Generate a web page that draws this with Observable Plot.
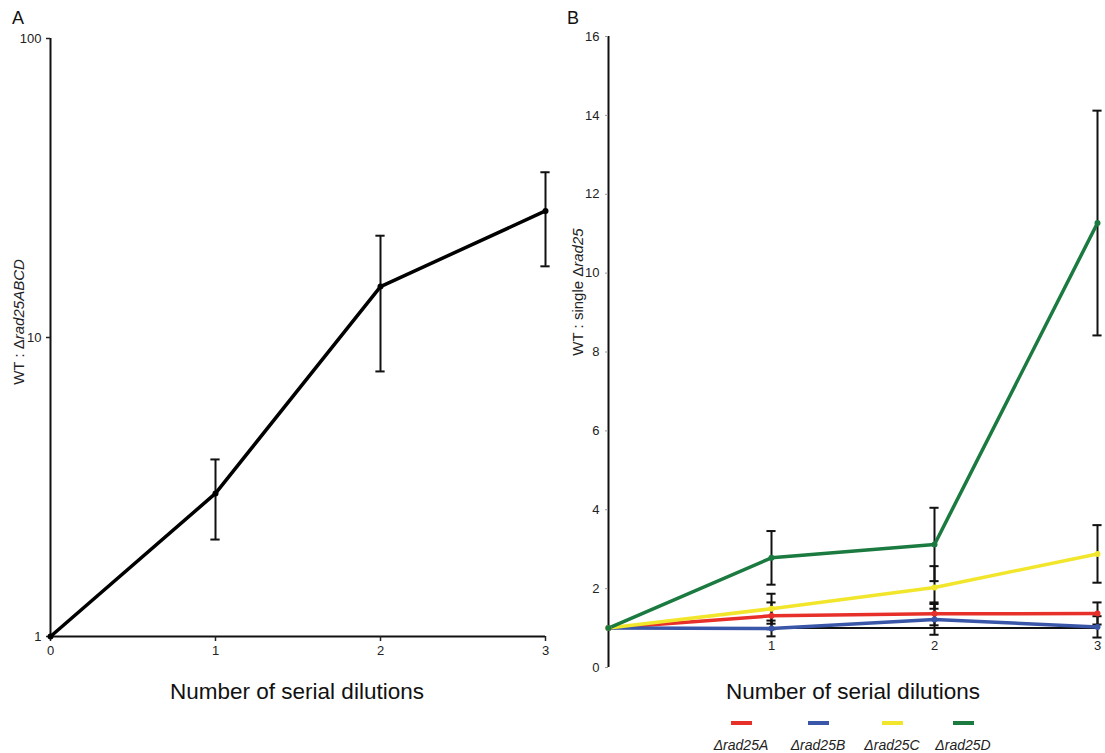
<!DOCTYPE html>
<html>
<head>
<meta charset="utf-8">
<script src="https://cdn.jsdelivr.net/npm/d3@7"></script>
<script src="https://cdn.jsdelivr.net/npm/@observablehq/plot@0.6"></script>
<style>
  html, body { margin: 0; padding: 0; background: #fff; }
  #wrap { position: relative; width: 1105px; height: 753px; font-family: "Liberation Sans", Arial, sans-serif; color: #111; overflow: hidden; }
  .panel { position: absolute; top: 0; }
  .ylab { position: absolute; white-space: nowrap; font-size: 15px; color: #222; transform: translate(-50%, -50%) rotate(-90deg); }
  .xtitle { position: absolute; white-space: nowrap; font-size: 22.5px; transform: translate(-50%, -50%); }
  .letter { position: absolute; font-size: 18px; transform: translate(-50%, -50%); }
  .sw { position: absolute; height: 4px; width: 21px; }
  .leg { position: absolute; font-size: 14px; font-style: italic; transform: translate(-50%, -50%); white-space: nowrap; color: #222; }
</style>
</head>
<body>
<div id="wrap"></div>
<script>
// ---- data ----
const dilutions = [0, 1, 2, 3];

// Panel A: WT : Δrad25ABCD (log scale)
const ratioABCD = [1, 3.01, 14.8, 26.5];
const errABCD   = [0, 0.9, 7.1, 9.2];
const yTicksA = [1, 10, 100];
const xTicksA = [0, 1, 2, 3];

// Panel B: WT : single Δrad25
const seriesNames  = ["Δrad25A", "Δrad25B", "Δrad25C", "Δrad25D"];
const seriesColors = ["#e8302b", "#3a56a8", "#f2e62c", "#1a7a3f"];
const rad25A = [1, 1.31, 1.36, 1.37];
const rad25B = [1, 0.99, 1.22, 1.03];
const rad25C = [1, 1.49, 2.03, 2.88];
const rad25D = [1, 2.78, 3.12, 11.27];
const errA = [0, 0.34, 0.29, 0.28];
const errB = [0, 0.2, 0.39, 0.27];
const errC = [0, 0.38, 0.54, 0.73];
const errD = [0, 0.68, 0.93, 2.85];
const yTicksB = [0, 2, 4, 6, 8, 10, 12, 14, 16];
const xTicksB = [1, 2, 3];

const xTitle = "Number of serial dilutions";

// ---- build tables ----
const rowsA = dilutions.map((x, i) => ({x, y: ratioABCD[i], e: errABCD[i]}));
const meansB = [rad25A, rad25B, rad25C, rad25D];
const errsB = [errA, errB, errC, errD];
const rowsB = [];
seriesNames.forEach((s, k) => dilutions.forEach((x, i) => rowsB.push({series: s, x, y: meansB[k][i], e: errsB[k][i]})));
const capHalf = 0.028;

const wrap = document.getElementById("wrap");
const style = {fontFamily: '"Liberation Sans", Arial, sans-serif', fontSize: "13px", color: "#222", background: "transparent", overflow: "visible"};

// ---- Panel A ----
const eA = rowsA.filter(d => d.e > 0);
const plotA = Plot.plot({
  width: 570, height: 700,
  marginLeft: 50, marginRight: 25, marginTop: 38, marginBottom: 64,
  style,
  x: {domain: [0, 3]},
  y: {type: "log", domain: [1, 100]},
  marks: [
    Plot.ruleX([0], {stroke: "#111", strokeWidth: 2}),
    Plot.ruleY([1], {stroke: "#111", strokeWidth: 2}),
    Plot.axisY({ticks: yTicksA, tickFormat: d => String(d), tickSize: 4, tickPadding: 5, label: null, strokeWidth: 1.5}),
    Plot.axisX({ticks: xTicksA, tickFormat: d => String(d), tickSize: 5, tickPadding: 4, label: null, strokeWidth: 1.5}),
    Plot.ruleX(eA, {x: "x", y1: d => d.y - d.e, y2: d => d.y + d.e, stroke: "#111", strokeWidth: 2}),
    Plot.ruleY(eA, {y: d => d.y - d.e, x1: d => d.x - capHalf, x2: d => d.x + capHalf, stroke: "#111", strokeWidth: 2}),
    Plot.ruleY(eA, {y: d => d.y + d.e, x1: d => d.x - capHalf, x2: d => d.x + capHalf, stroke: "#111", strokeWidth: 2}),
    Plot.line(rowsA, {x: "x", y: "y", stroke: "#000", strokeWidth: 3.5}),
    Plot.dot(rowsA, {x: "x", y: "y", r: 3, fill: "#000"})
  ]
});
plotA.classList.add("panel");
plotA.style.left = "0px";
wrap.appendChild(plotA);

// ---- Panel B ----
const eB = rowsB.filter(d => d.e > 0);
const plotB = Plot.plot({
  width: 545, height: 700,
  marginLeft: 48, marginRight: 8, marginTop: 36, marginBottom: 33,
  style,
  x: {domain: [0, 3], axis: null},
  y: {domain: [0, 16], axis: null},
  color: {domain: seriesNames, range: seriesColors},
  marks: [
    Plot.ruleX([0], {stroke: "#111", strokeWidth: 2}),
    Plot.ruleY([1], {stroke: "#111", strokeWidth: 2}),
    Plot.axisY({ticks: yTicksB, tickSize: 3, tickPadding: 6, label: null, stroke: "#999"}),
    Plot.text(xTicksB, {x: d => d, y: () => 1, dy: 18, text: d => String(d), fill: "#222", fontSize: 13}),
    Plot.ruleX(eB, {x: "x", y1: d => d.y - d.e, y2: d => d.y + d.e, stroke: "#111", strokeWidth: 2}),
    Plot.ruleY(eB, {y: d => d.y - d.e, x1: d => d.x - capHalf, x2: d => d.x + capHalf, stroke: "#111", strokeWidth: 2}),
    Plot.ruleY(eB, {y: d => d.y + d.e, x1: d => d.x - capHalf, x2: d => d.x + capHalf, stroke: "#111", strokeWidth: 2}),
    Plot.line(rowsB, {x: "x", y: "y", stroke: "series", strokeWidth: 3.5}),
    Plot.dot(rowsB, {x: "x", y: "y", r: 3, fill: "series"})
  ]
});
plotB.classList.add("panel");
plotB.style.left = "560px";
wrap.appendChild(plotB);

// ---- text & legend ----
function add(cls, html, x, y) {
  const d = document.createElement("div");
  d.className = cls;
  d.innerHTML = html;
  d.style.left = x + "px";
  d.style.top = y + "px";
  wrap.appendChild(d);
  return d;
}
add("letter", "A", 18, 18);
add("letter", "B", 573, 18);
add("ylab", "WT : Δ<i>rad25ABCD</i>", 18, 322);
add("ylab", "WT : single Δ<i>rad25</i>", 577, 292);
add("xtitle", xTitle, 297, 692);
add("xtitle", xTitle, 853, 692);

const swX = [741, 818, 892, 963];
seriesNames.forEach((s, k) => {
  const sw = add("sw", "", swX[k] - 10, 721);
  sw.style.background = seriesColors[k];
  add("leg", s, swX[k], 745);
});
</script>
</body>
</html>
